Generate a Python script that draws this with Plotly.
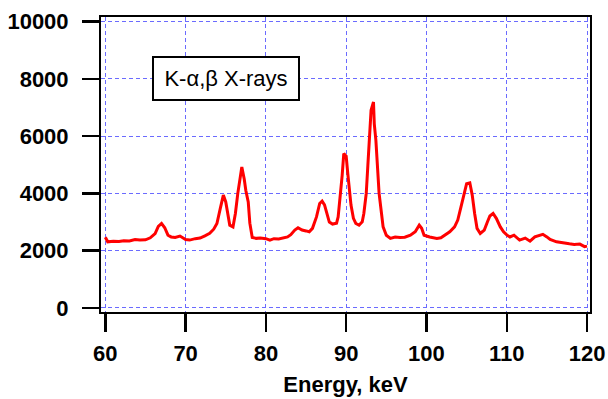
import plotly.graph_objects as go

energy_kev = [60.0, 60.3, 61.0, 61.7, 62.3, 63.0, 63.7, 64.3, 65.0, 65.6, 66.2, 66.6, 67.0, 67.4, 67.8,
              68.2, 68.7, 69.3, 70.0, 70.5, 71.2, 71.8, 72.4, 73.0, 73.5, 73.9, 74.3, 74.7, 75.0, 75.2,
              75.5, 75.9, 76.2, 76.5, 76.8, 77.0, 77.3, 77.5, 77.8, 78.0, 78.3, 78.8, 79.3, 80.0, 80.5,
              81.0, 81.6, 82.2, 82.7, 83.1, 83.6, 84.0, 84.5, 85.0, 85.4, 85.8, 86.3, 86.7, 87.0, 87.3,
              87.6, 87.9, 88.3, 88.8, 89.0, 89.3, 89.5, 89.7, 90.0, 90.2, 90.4, 90.6, 90.9, 91.2, 91.6,
              92.0, 92.2, 92.5, 92.7, 92.9, 93.1, 93.4, 93.5, 93.7, 93.9, 94.1, 94.4, 94.6, 95.0, 95.5,
              96.1, 96.7, 97.3, 98.0, 98.6, 99.1, 99.4, 99.7, 100.4, 101.3, 101.8, 102.3, 102.9, 103.5,
              103.9, 104.3, 104.7, 105.0, 105.4, 105.7, 106.0, 106.3, 106.7, 107.2, 107.6, 107.9, 108.3,
              108.7, 109.2, 109.6, 110.0, 110.4, 110.9, 111.6, 112.3, 112.9, 113.5, 114.0, 114.5, 115.0,
              115.4, 116.2, 116.8, 117.2, 117.8, 118.4, 119.1, 119.7, 120.0]
counts = [2470, 2310, 2330, 2320, 2350, 2340, 2390, 2370, 2380, 2450, 2600, 2850, 2950, 2800, 2540,
          2480, 2460, 2510, 2390, 2370, 2420, 2440, 2520, 2610, 2750, 2950, 3450, 3940, 3700, 3410,
          2890, 2830, 3300, 4000, 4550, 4920, 4500, 4100, 3700, 2960, 2460, 2430, 2440, 2420, 2370,
          2420, 2410, 2440, 2480, 2560, 2720, 2800, 2720, 2690, 2660, 2780, 3180, 3650, 3730, 3600,
          3300, 3000, 2930, 2960, 3180, 4000, 4630, 5390, 5300, 4690, 4110, 3590, 3130, 2950, 2890,
          3010, 3300, 4000, 4980, 5850, 6900, 7190, 6430, 5850, 5100, 4000, 3300, 2830, 2540, 2430,
          2480, 2460, 2470, 2540, 2660, 2890, 2780, 2540, 2480, 2430, 2450, 2540, 2660, 2830,
          3070, 3530, 3940, 4340, 4370, 3940, 3300, 2780, 2600, 2720, 3010, 3210, 3300,
          3130, 2830, 2660, 2550, 2480, 2540, 2370, 2440, 2330, 2480, 2520, 2570, 2480,
          2390, 2310, 2280, 2250, 2240, 2220, 2230, 2140, 2160]

x_ticks = [60, 70, 80, 90, 100, 110, 120]
y_ticks = [0, 2000, 4000, 6000, 8000, 10000]
label_text = "K-\u03b1,\u03b2 X-rays"
x_title = "Energy, keV"

fig = go.Figure()
fig.add_trace(go.Scatter(x=energy_kev, y=counts, mode="lines",
                         line=dict(color="#ff0000", width=3), showlegend=False,
                         hoverinfo="skip"))

tick_font = dict(family="Liberation Sans, Arial, sans-serif", size=22, color="black", weight="bold")
grid_color = "#6b6bff"

fig.update_xaxes(range=[59.46, 120.37], tickvals=x_ticks, ticktext=[str(v) for v in x_ticks],
                 showline=True, linecolor="black", linewidth=2, mirror=True,
                 ticks="outside", ticklen=18, tickwidth=2.5, tickcolor="black",
                 showgrid=True, gridcolor=grid_color, gridwidth=1, griddash="4px,3px",
                 zeroline=False, tickfont=tick_font, ticklabelstandoff=3, automargin=False,
                 title=dict(text=x_title, font=tick_font, standoff=11))
fig.update_yaxes(range=[-140, 10157], tickvals=y_ticks, ticktext=[str(v) for v in y_ticks],
                 showline=True, linecolor="black", linewidth=2, mirror=True,
                 ticks="outside", ticklen=17, tickwidth=2.5, tickcolor="black",
                 showgrid=True, gridcolor=grid_color, gridwidth=1, griddash="4px,3px",
                 zeroline=False, tickfont=tick_font, ticklabelstandoff=9, automargin=False)

fig.add_annotation(x=75.03, y=8010, xref="x", yref="y", text=label_text, showarrow=False,
                   font=dict(family="Liberation Sans, Arial, sans-serif", size=22, color="black"),
                   bgcolor="white", bordercolor="black", borderwidth=2, borderpad=0,
                   width=144, height=41)

fig.update_layout(width=608, height=399, margin=dict(l=101, r=18, t=17, b=87, autoexpand=False),
                  plot_bgcolor="white", paper_bgcolor="white", hovermode=False,
                  font=dict(family="Liberation Sans, Arial, sans-serif"))

fig.write_html("out.html", config={"displayModeBar": False, "staticPlot": True},
               post_script="document.body.style.margin='0';document.body.style.padding='0';"
                           "document.body.style.overflow='hidden';")
